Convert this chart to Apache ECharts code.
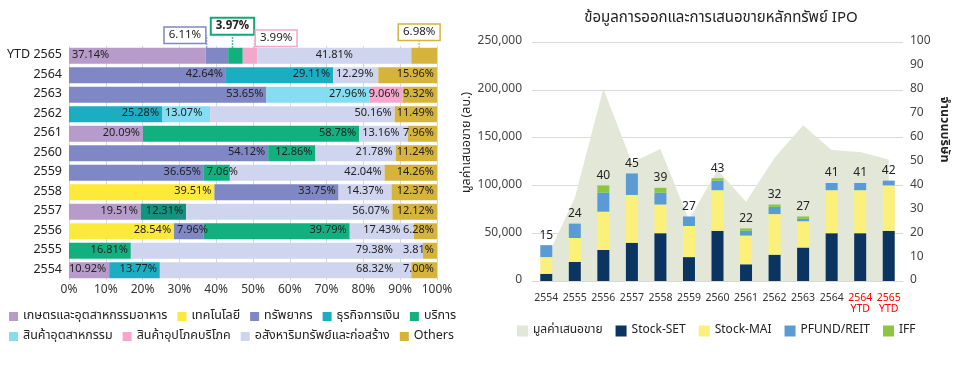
<!DOCTYPE html>
<html><head><meta charset="utf-8">
<script src="https://cdn.jsdelivr.net/npm/echarts/dist/echarts.min.js"></script>
<style>html,body{margin:0;padding:0;background:#fff}#c{width:955px;height:368px}</style>
</head><body><div id="c"></div>
<script>
// ---------- Left chart data (rows top to bottom) ----------
const sectorRows = ['YTD 2565','2564','2563','2562','2561','2560','2559','2558','2557','2556','2555','2554'];
const agro        = [37.14, 0, 0, 0, 20.09, 0, 0, 0, 19.51, 0, 0, 10.92];
const tech        = [0, 0, 0, 0, 0, 0, 0, 39.51, 0, 28.54, 0, 0];
const resources   = [6.11, 42.64, 53.65, 0, 0, 54.12, 36.65, 33.75, 0, 7.96, 0, 0];
const financial   = [0, 29.11, 0, 25.28, 0, 0, 0, 0, 12.31, 0, 0, 13.77];
const services    = [3.97, 0, 0, 0, 58.78, 12.86, 7.06, 0, 0, 39.79, 16.81, 0];
const industrials = [0, 0, 27.96, 13.07, 0, 0, 0, 0, 0, 0, 0, 0];
const consumer    = [3.99, 0, 9.06, 0, 0, 0, 0, 0, 0, 0, 0, 0];
const property    = [41.81, 12.29, 0, 50.16, 13.16, 21.78, 42.04, 14.37, 56.07, 17.43, 79.38, 68.32];
const others      = [6.98, 15.96, 9.32, 11.49, 7.96, 11.24, 14.26, 12.37, 12.12, 6.28, 3.81, 7.00];
const xTickPct = [0,10,20,30,40,50,60,70,80,90,100];

// ---------- Right chart data ----------
const ipoYears   = ['2554','2555','2556','2557','2558','2559','2560','2561','2562','2563','2564','2564\nYTD','2565\nYTD'];
const offerValue = [23000, 87000, 201000, 124000, 138000, 64000, 116000, 83000, 129000, 163000, 137000, 135000, 127000];
const stockSET   = [3, 8, 13, 16, 20, 10, 21, 7, 11, 14, 20, 20, 21];
const stockMAI   = [7, 10, 16, 20, 12, 13, 17, 12, 17, 11, 18, 18, 19];
const pfundREIT  = [5, 6, 8, 9, 5, 4, 4, 2, 3, 1, 3, 3, 2];
const iff        = [0, 0, 3, 0, 2, 0, 1, 1, 1, 1, 0, 0, 0];

const FONT = '"Noto Sans Thai", Tahoma, "Noto Sans", "DejaVu Sans", sans-serif';

const sectorDefs = [
  {name:'เกษตรและอุตสาหกรรมอาหาร', data:agro, color:'#B79BCB'},
  {name:'เทคโนโลยี', data:tech, color:'#FCE93A'},
  {name:'ทรัพยากร', data:resources, color:'#7F87C5'},
  {name:'ธุรกิจการเงิน', data:financial, color:'#1BAEC2'},
  {name:'บริการ', data:services, color:'#12B07F'},
  {name:'สินค้าอุตสาหกรรม', data:industrials, color:'#84DDF0'},
  {name:'สินค้าอุปโภคบริโภค', data:consumer, color:'#F4A7CB'},
  {name:'อสังหาริมทรัพย์และก่อสร้าง', data:property, color:'#CFD5EE'},
  {name:'Others', data:others, color:'#D6B43C'}
];
// label placement overrides: [seriesIndex, rowIndex] -> style
const labelOverrides = {
  '0:0': {position:'insideLeft'},
  '7:0': {position:'inside'},
  '5:3': {position:'insideLeft'},
  '7:1': {position:'insideLeft'},
  '2:9': {position:'insideLeft'},
  '7:9': {position:'inside'},
  '7:7': {position:'inside'},
  '7:4': {position:'insideLeft'},
  '4:6': {position:'insideLeft'},
  '7:10': {position:'insideRight', distance:30},
  '7:11': {position:'insideRight', distance:18}
};
const colorOverrides = {'3:8': '#16917F'};
// callout boxes for YTD row
const callouts = {
  2: {dx:-32, dy:0, border:'#7F87C5', bold:false, bw:1.5},
  4: {dx:-3, dy:-9, border:'#12A878', bold:true, bw:2},
  6: {dx:26, dy:3, border:'#F4A7CB', bold:false, bw:1.5},
  8: {dx:-5, dy:-3, border:'#D6B43C', bold:false, bw:1.5}
};

const series = [];
sectorDefs.forEach((d, si) => {
  const data = d.data.map((v, ri) => {
    if (!v) return {value: '-'};
    const item = {value: v};
    const key = si + ':' + ri;
    if (labelOverrides[key]) item.label = Object.assign({}, labelOverrides[key]);
    if (colorOverrides[key]) item.itemStyle = {color: colorOverrides[key]};
    if (ri === 0 && callouts[si]) {
      const c = callouts[si];
      item.label = {position:'top', distance:5, backgroundColor:'#fff', borderColor:c.border,
        borderWidth:c.bw, padding:[2,4,1,4], fontWeight: c.bold ? 'bold' : 'normal', fontSize:11.5};
      item.labelLine = {show:true, lineStyle:{type:'dotted', color:c.border, width:1.5}};
    }
    return item;
  });
  series.push({
    name: d.name, type:'bar', stack:'sec', xAxisIndex:0, yAxisIndex:0,
    barWidth:16, data, itemStyle:{color:d.color},
    label:{show:true, position:'insideRight', distance:3, fontSize:11, color:'#222', fontFamily:FONT,
      formatter: p => Number(p.value).toFixed(2) + '%'},
    labelLine:{show:false},
    labelLayout: (params) => {
      if (params.dataIndex === 0 && callouts[si]) return {dx: callouts[si].dx, dy: callouts[si].dy};
      return {};
    }
  });
});

series.push({
  name:'มูลค่าเสนอขาย', type:'line', xAxisIndex:1, yAxisIndex:1, data:offerValue,
  symbol:'none', lineStyle:{width:0}, itemStyle:{color:'#E3E7D8'},
  areaStyle:{color:'#E3E7D8', opacity:1}, z:1
});
const ipoDefs = [
  {name:'Stock-SET', data:stockSET, color:'#0B3560'},
  {name:'Stock-MAI', data:stockMAI, color:'#FBF07A'},
  {name:'PFUND/REIT', data:pfundREIT, color:'#5B9BD5'},
  {name:'IFF', data:iff, color:'#8CC63F'}
];
ipoDefs.forEach(d => series.push({
  name:d.name, type:'bar', stack:'ipo', xAxisIndex:1, yAxisIndex:2, barWidth:12,
  data:d.data, itemStyle:{color:d.color}, z:3
}));
const totals = ipoYears.map((_, i) => stockSET[i] + stockMAI[i] + pfundREIT[i] + iff[i]);
series.push({
  name:'total', type:'bar', stack:'ipo', xAxisIndex:1, yAxisIndex:2, barWidth:12,
  data: ipoYears.map(() => 0), itemStyle:{color:'transparent'}, z:3,
  label:{show:true, position:'top', distance:3, fontSize:12, color:'#222', fontFamily:FONT,
    formatter: p => totals[p.dataIndex]}
});

const option = {
  animation:false,
  textStyle:{fontFamily:FONT},
  title:{text:'ข้อมูลการออกและการเสนอขายหลักทรัพย์ IPO', left:716, top:6, textAlign:'center',
    textStyle:{fontSize:15, fontWeight:'normal', color:'#222', fontFamily:FONT}},
  grid:[
    {left:69, right:518, top:46, bottom:88},
    {left:532, right:52, top:42, bottom:87}
  ],
  legend:[
    {data:sectorDefs.slice(0,5).map(d=>d.name), left:4, top:305, icon:'rect', itemWidth:9, itemHeight:9, itemGap:10,
      textStyle:{fontSize:12.5, color:'#222', fontFamily:FONT}},
    {data:sectorDefs.slice(5).map(d=>d.name), left:4, top:325, icon:'rect', itemWidth:9, itemHeight:9, itemGap:10,
      textStyle:{fontSize:12.5, color:'#222', fontFamily:FONT}},
    {data:['มูลค่าเสนอขาย','Stock-SET','Stock-MAI','PFUND/REIT','IFF'], left:512, top:320, icon:'rect',
      itemWidth:11, itemHeight:11, itemGap:13, itemStyle:{borderWidth:0},
      textStyle:{fontSize:12, color:'#222', fontFamily:FONT}}
  ],
  xAxis:[
    {gridIndex:0, type:'value', min:xTickPct[0], max:xTickPct[xTickPct.length-1], interval:10,
      axisLabel:{formatter:'{value}%', fontSize:12, color:'#333', margin:5},
      splitLine:{lineStyle:{color:'#D9D9D9'}}, axisLine:{show:false}, axisTick:{show:false}},
    {gridIndex:1, type:'category', data: ipoYears.map(y => y.indexOf('YTD') >= 0 ? {value:y, textStyle:{color:'#FF0000'}} : y),
      axisTick:{show:false}, axisLine:{lineStyle:{color:'#D9D9D9'}},
      axisLabel:{fontSize:10.5, color:'#333', margin:12, lineHeight:11, interval:0}}
  ],
  yAxis:[
    {gridIndex:0, type:'category', data:sectorRows, inverse:true,
      axisLine:{show:false}, axisTick:{show:false}, axisLabel:{fontSize:12.5, color:'#222', margin:7}},
    {gridIndex:1, type:'value', min:0, max:250000, interval:50000,
      name:'มูลค่าเสนอขาย (ลบ.)', nameLocation:'middle', nameGap:52, nameRotate:90,
      nameTextStyle:{fontSize:12.5, color:'#222', fontFamily:FONT, padding:[0,0,0,38]},
      axisLabel:{fontSize:12, color:'#444', margin:10, padding:[0,0,8,0], formatter: v => v.toLocaleString('en-US')},
      axisLine:{show:false}, axisTick:{show:false}, splitLine:{lineStyle:{color:'#D9D9D9'}}},
    {gridIndex:1, type:'value', position:'right', min:0, max:100, interval:10,
      name:'จำนวนบริษัท', nameLocation:'middle', nameGap:34, nameRotate:-90,
      nameTextStyle:{fontSize:12.5, color:'#222', fontFamily:FONT, fontWeight:'bold', padding:[0,64,0,0]},
      axisLabel:{fontSize:12, color:'#444', margin:7, padding:[0,0,8,0]},
      axisLine:{show:false}, axisTick:{show:false}, splitLine:{show:false}}
  ],
  series
};
const chart = echarts.init(document.getElementById('c'));
chart.setOption(option);
</script>
</body></html>
